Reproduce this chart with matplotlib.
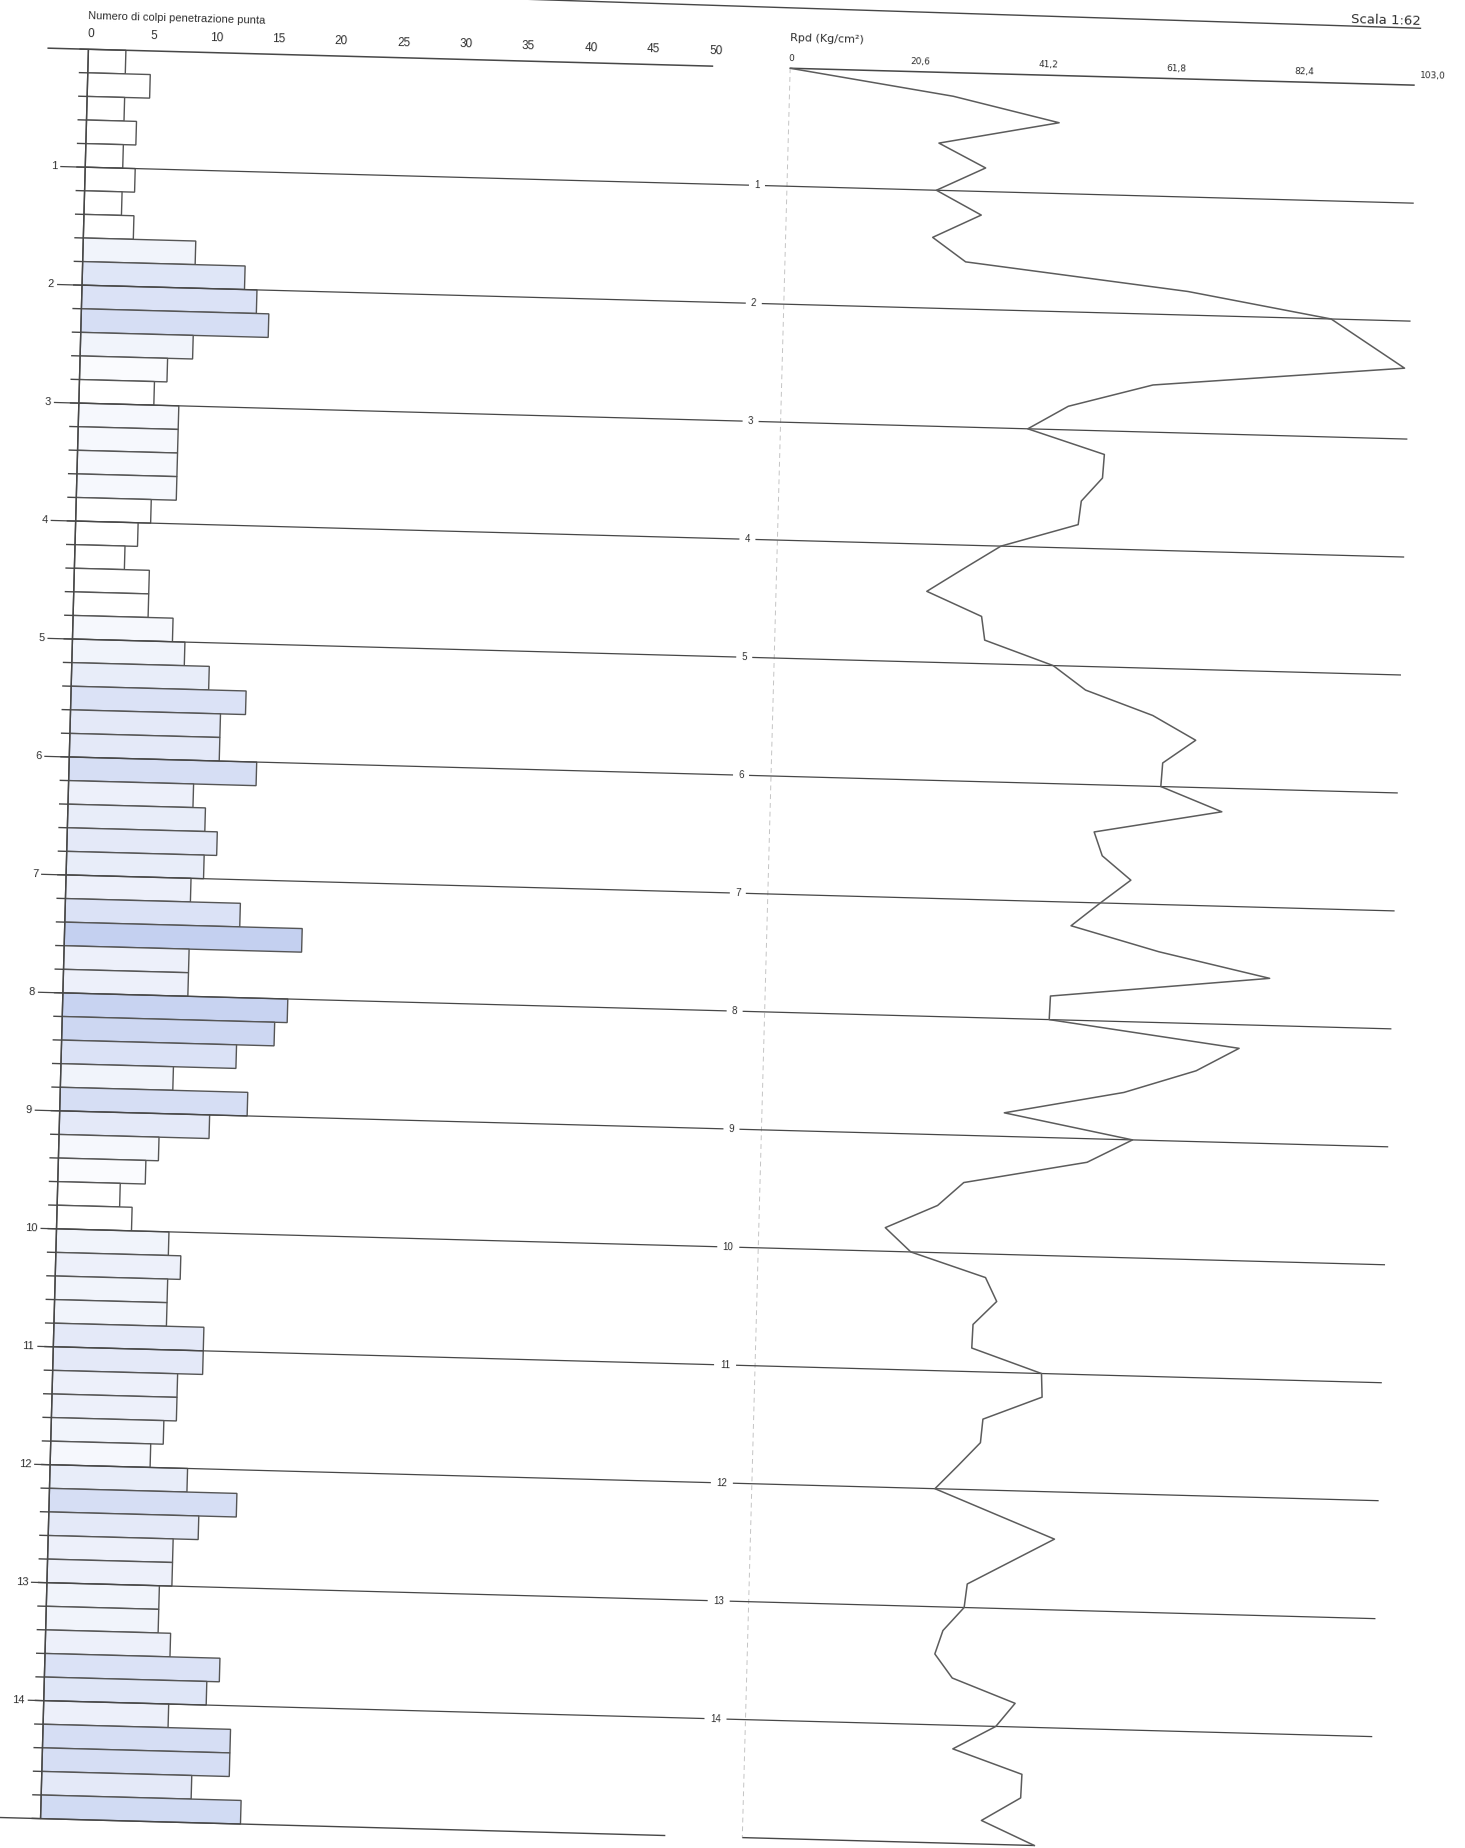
import matplotlib
matplotlib.use("Agg")
import matplotlib.pyplot as plt
from matplotlib.transforms import Affine2D
import numpy as np

# ---------------- data ----------------
STEP = 0.2  # m, penetration step
# Numero di colpi (blows) per 0.2 m, from 0.0 to 15.0 m
blows = [3, 5, 3, 4, 3, 4, 3, 4, 9, 13, 14, 15, 9, 7, 6, 8, 8, 8, 8, 6, 5, 4, 6, 6, 8,
         9, 11, 14, 12, 12, 15, 10, 11, 12, 11, 10, 14, 19, 10, 10, 18, 17, 14, 9, 15, 12, 8, 7, 5, 6,
         9, 10, 9, 9, 12, 12, 10, 10, 9, 8, 11, 15, 12, 10, 10, 9, 9, 10, 14, 13, 10, 15, 15, 12, 16]
# Rpd (Kg/cm2) at each 0.2 m depth, from 0.0 to 15.0 m
rpd = [0, 26.3, 43.4, 24.2, 31.8, 24.0, 31.3, 23.6, 29.0, 64.8, 87.9, 93.9, 99.9, 59.6, 46.1, 39.7, 52.1, 51.9,
       48.6, 48.2, 35.9, 30.0, 24.2, 33.1, 33.7, 44.8, 50.1, 61.0, 68.0, 62.8, 62.6, 72.5, 52.1, 53.5, 58.2, 53.4, 48.8,
       63.0, 80.9, 45.8, 45.7, 76.3, 69.5, 58.0, 38.9, 59.6, 52.4, 32.7, 28.6, 20.3, 24.5, 36.6, 38.5, 34.8, 34.7, 46.0,
       46.2, 36.8, 36.5, 33.0, 29.4, 39.1, 48.8, 41.9, 35.0, 34.6, 31.3, 30.1, 33.0, 43.2, 40.2, 33.4, 44.6, 44.5, 38.3, 46.9]
n_ticks = [0, 5, 10, 15, 20, 25, 30, 35, 40, 45, 50]
rpd_ticks = [0, 20.6, 41.2, 61.8, 82.4, 103.0]
rpd_tick_labels = ["0", "20,6", "41,2", "61,8", "82,4", "103,0"]
depth_marks = [1, 2, 3, 4, 5, 6, 7, 8, 9, 10, 11, 12, 13, 14]
max_depth = 15

bar_tops = [i * STEP for i in range(len(blows))]
rpd_depths = [i * STEP for i in range(len(rpd))]

# ---------------- layout (pixels, unrotated sheet) ----------------
W, H = 1465, 1848
DPI = 100
PXM = 118.0            # pixels per metre
Y0 = 67.0              # y of depth 0
X0N, SN = 65.0, 12.5   # blows axis origin, px per blow
X0R, SR = 767.0, 6.229 # Rpd axis origin, px per unit
ANG = -1.55            # sheet tilt of the scan (deg)
XC, YC = 732.5, 924.0

LC = "#474747"
TC = "#2e2e2e"
FONT = ["Liberation Sans", "DejaVu Sans"]
FONT2 = ["DejaVu Sans"]

fig = plt.figure(figsize=(W / DPI, H / DPI), dpi=DPI)
fig.patch.set_facecolor("white")

ax1 = fig.add_axes([0, 0, 1, 1])
ax2 = fig.add_axes([0, 0, 1, 1])
for ax in (ax1, ax2):
    ax.set_ylim((H - Y0) / PXM, (0 - Y0) / PXM)
    ax.axis("off")
    ax.patch.set_visible(False)
ax1.set_xlim((0 - X0N) / SN, (W - X0N) / SN)
ax2.set_xlim((0 - X0R) / SR, (W - X0R) / SR)

rot = Affine2D().rotate_deg_around(XC, H - YC, ANG)


def T(ax):
    return ax.transData + rot


def nx(px):
    return (px - X0N) / SN


def rx(px):
    return (px - X0R) / SR


def dy(py):
    return (py - Y0) / PXM


def txt(ax, x, y, s, **kw):
    t = ax.text(x, y, s, transform=T(ax), rotation=ANG, rotation_mode="anchor",
                clip_on=False, **kw)
    return t


def fix(artist, ax):
    artist.set_transform(T(ax))
    artist.set_clip_on(False)
    return artist


# header line with scale
fix(ax2.plot([rx(470), rx(1396)], [dy(5), dy(10)], color=LC, lw=1.0)[0], ax2)
txt(ax2, rx(1396), dy(3), "Scala 1:62", ha="right", va="center", fontsize=9.5,
    family=FONT2, color=TC)

# ---------------- left panel: blows ----------------
txt(ax1, nx(64), dy(34), "Numero di colpi penetrazione punta", ha="left", va="center",
    fontsize=8, family=FONT, color=TC)
for v in n_ticks:
    txt(ax1, v + 0.2, dy(52), str(v), ha="center", va="center", fontsize=8.5,
        family=FONT, color=TC)
fix(ax1.hlines(0, nx(24), nx(690), color=LC, lw=1.1, zorder=4), ax1)

white = np.array([1.0, 1.0, 1.0])
blue = np.array([0.75, 0.80, 0.935])
colors = []
for n in blows:
    t = min(max((n - 6) / 14.0, 0.0), 1.0)
    colors.append(tuple(white * (1 - t) + blue * t))

bars = ax1.barh([d + STEP / 2 for d in bar_tops], blows, height=STEP, left=0, color=colors,
                edgecolor="#555555", linewidth=1.0, zorder=2)
for p in bars.patches:
    fix(p, ax1)
fix(ax1.hlines(bar_tops + [max_depth], nx(56), 0, color=LC, lw=1.0, zorder=3), ax1)
fix(ax1.vlines(0, 0, max_depth, color=LC, lw=1.0, zorder=4), ax1)
fix(ax1.hlines(max_depth, nx(24), nx(690), color=LC, lw=1.0, zorder=4), ax1)

MIDX = 737.0
for d in depth_marks:
    lab = str(d)
    single = len(lab) == 1
    gap = 8 if single else 11
    lx = 34 if single else 40
    txt(ax1, nx(lx), d, lab, ha="center", va="center", fontsize=8, family=FONT, color=TC)
    fix(ax1.hlines(d, nx(lx + (6 if single else 9)), nx(MIDX - gap), color=LC, lw=0.9,
                   zorder=5), ax1)
    fix(ax2.hlines(d, rx(MIDX + gap), rx(1394), color=LC, lw=0.9, zorder=5), ax2)
    txt(ax2, rx(MIDX), d, lab, ha="center", va="center", fontsize=7, family=FONT, color=TC)

# ---------------- right panel: Rpd ----------------
txt(ax2, rx(766), dy(37), "Rpd (Kg/cm\u00b2)", ha="left", va="center", fontsize=8,
    family=FONT2, color=TC)
for v, lab in zip(rpd_ticks, rpd_tick_labels):
    txt(ax2, v + 0.2, dy(57), lab, ha="center", va="center", fontsize=6.5,
        family=FONT2, color=TC)
fix(ax2.hlines(0, 0, 100.3, color=LC, lw=1.1, zorder=4), ax2)
fix(ax2.vlines(0, 0, max_depth, color="#c4c4c4", lw=0.7, linestyles=(0, (5, 4)), zorder=1), ax2)
fix(ax2.plot(rpd, rpd_depths, color="#5c5c5c", lw=1.1, zorder=6)[0], ax2)
fix(ax2.hlines(max_depth, 0, rpd[-1], color=LC, lw=1.0, zorder=4), ax2)

fig.savefig("out.png", dpi=DPI, facecolor="white")
